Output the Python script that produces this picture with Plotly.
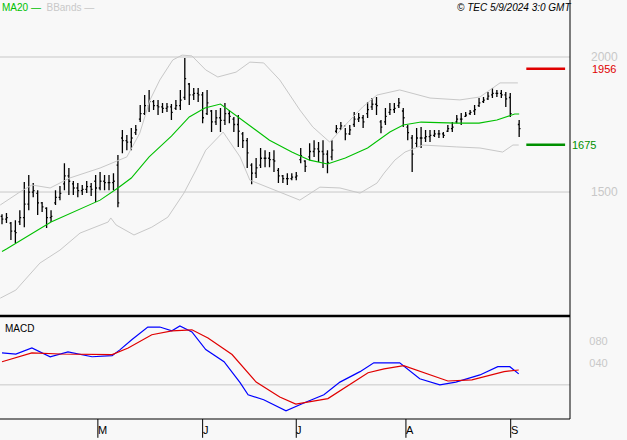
import plotly.graph_objects as go

# trading day index for each bar (one missing day before the last bar)
days = list(range(115)) + [116]
highs = [1418, 1422, 1389, 1396, 1433, 1537, 1563, 1533, 1507, 1463, 1444, 1433, 1507, 1522, 1607, 1589,
         1541, 1533, 1526, 1541, 1533, 1563, 1574, 1563, 1563, 1570, 1637, 1730, 1711, 1737, 1748, 1822,
         1859, 1878, 1841, 1841, 1830, 1830, 1826, 1841, 1878, 1996, 1904, 1885, 1885, 1870, 1878, 1804,
         1804, 1811, 1830, 1804, 1778, 1785, 1722, 1700, 1607, 1626, 1663, 1655, 1648, 1655, 1589, 1563,
         1570, 1570, 1574, 1663, 1618, 1681, 1692, 1685, 1692, 1655, 1692, 1748, 1759, 1737, 1748, 1796,
         1793, 1785, 1833, 1848, 1852, 1767, 1811, 1830, 1830, 1848, 1811, 1748, 1711, 1737, 1741, 1730,
         1730, 1730, 1730, 1722, 1748, 1759, 1785, 1793, 1796, 1804, 1822, 1848, 1852, 1870, 1885, 1878,
         1878, 1870, 1867, 1767]
lows = [1381, 1385, 1322, 1311, 1378, 1370, 1433, 1481, 1415, 1426, 1367, 1389, 1452, 1470, 1507, 1489,
        1489, 1481, 1489, 1496, 1485, 1463, 1507, 1507, 1507, 1507, 1444, 1644, 1655, 1655, 1711, 1759,
        1785, 1796, 1804, 1785, 1793, 1796, 1767, 1804, 1804, 1841, 1822, 1841, 1833, 1755, 1785, 1722,
        1748, 1722, 1748, 1755, 1722, 1667, 1663, 1589, 1529, 1552, 1589, 1592, 1592, 1574, 1533, 1533,
        1526, 1544, 1544, 1607, 1574, 1618, 1630, 1611, 1589, 1570, 1618, 1718, 1730, 1692, 1711, 1741,
        1759, 1737, 1774, 1804, 1785, 1718, 1748, 1785, 1793, 1811, 1741, 1692, 1574, 1667, 1663, 1685,
        1685, 1704, 1700, 1700, 1722, 1722, 1755, 1748, 1778, 1785, 1785, 1815, 1830, 1841, 1848, 1852,
        1848, 1815, 1778, 1704]
closes = [1400, 1405, 1355, 1350, 1405, 1455, 1500, 1505, 1460, 1445, 1405, 1410, 1480, 1495, 1560, 1540,
          1515, 1505, 1510, 1520, 1510, 1515, 1540, 1535, 1535, 1540, 1460, 1690, 1685, 1700, 1730, 1790,
          1820, 1835, 1820, 1815, 1810, 1815, 1795, 1820, 1840, 1920, 1860, 1865, 1860, 1775, 1830, 1760,
          1775, 1765, 1790, 1780, 1750, 1725, 1690, 1645, 1570, 1590, 1625, 1625, 1620, 1615, 1560, 1550,
          1550, 1555, 1560, 1635, 1595, 1650, 1660, 1650, 1640, 1610, 1655, 1735, 1745, 1715, 1730, 1770,
          1775, 1760, 1805, 1825, 1820, 1740, 1780, 1805, 1810, 1830, 1775, 1720, 1640, 1700, 1700, 1705,
          1710, 1715, 1715, 1710, 1735, 1740, 1770, 1770, 1785, 1795, 1805, 1830, 1840, 1855, 1865, 1865,
          1860, 1845, 1790, 1735]
opens = [1410, 1400, 1385, 1355, 1390, 1405, 1455, 1500, 1495, 1460, 1440, 1405, 1460, 1480, 1530, 1560,
         1530, 1515, 1505, 1510, 1520, 1540, 1515, 1540, 1535, 1535, 1600, 1700, 1690, 1685, 1720, 1770,
         1790, 1820, 1835, 1820, 1815, 1810, 1815, 1810, 1820, 1850, 1900, 1860, 1865, 1860, 1790, 1800,
         1760, 1775, 1765, 1790, 1770, 1750, 1715, 1690, 1600, 1570, 1600, 1625, 1625, 1620, 1580, 1560,
         1550, 1550, 1555, 1620, 1615, 1630, 1650, 1660, 1650, 1640, 1630, 1725, 1735, 1745, 1715, 1750,
         1770, 1775, 1790, 1815, 1825, 1760, 1760, 1795, 1805, 1820, 1800, 1740, 1700, 1680, 1700, 1700,
         1705, 1710, 1715, 1715, 1725, 1735, 1760, 1770, 1780, 1790, 1800, 1820, 1835, 1845, 1860, 1865,
         1865, 1860, 1850, 1750]

ma_days = [0, 1, 11, 22, 26, 29, 33, 38, 42, 45.5, 49, 53, 60, 65, 69, 73, 77, 82, 87, 90, 94, 102, 107, 111,
           113, 115, 116]
ma_vals = [1280, 1289, 1389, 1470, 1515, 1552, 1630, 1707, 1778, 1811, 1826, 1778, 1692, 1648, 1618, 1604,
           1626, 1663, 1722, 1748, 1759, 1755, 1755, 1767, 1778, 1789, 1789]

up_days = [-0.4, 4.0, 6.7, 10.8, 15.2, 22.0, 28.0, 30.9, 33.2, 35.4, 38.3, 40.4, 42.6, 45.7, 48.4, 52.5,
           55.6, 58.7, 62.3, 66.8, 69.7, 73.5, 77.4, 80.9, 84.1, 89.2, 96.0, 102.7, 107.2, 111.7, 115.7]
up_vals = [1452, 1500, 1526, 1515, 1552, 1589, 1630, 1718, 1841, 1915, 1989, 2007, 2004, 1952, 1926, 1944,
           1981, 1978, 1915, 1804, 1741, 1685, 1755, 1815, 1859, 1878, 1848, 1841, 1852, 1904, 1904]
lo_days = [-0.4, 3.1, 8.5, 13.0, 17.5, 23.8, 24.4, 25.6, 29.6, 33.6, 37.2, 40.8, 43.5, 45.7, 49.6, 53.4,
           55.6, 60.1, 63.9, 66.8, 71.3, 75.8, 80.3, 84.1, 85.7, 88.1, 90.4, 94.4, 102.0, 107.2, 112.3,
           114.6, 115.9]
lo_vals = [1107, 1137, 1237, 1285, 1348, 1389, 1404, 1378, 1341, 1370, 1407, 1496, 1581, 1655, 1722, 1630,
           1544, 1515, 1489, 1470, 1518, 1515, 1496, 1533, 1570, 1618, 1648, 1674, 1667, 1663, 1648, 1674,
           1674]

macd_days = [0, 3.1, 6.7, 10.8, 14.8, 20.2, 24.7, 26.5, 29.1, 32.7, 35.4, 38.1, 39.9, 42.6, 45.7, 49.8,
             53.4, 55.2, 58.7, 63.7, 67.7, 72.2, 75.8, 80.3, 83.4, 89.2, 93.7, 98.2, 101.8, 107.2, 111.2,
             113.9, 115.9]
macd_vals = [58, 56, 67, 51, 60, 51, 53, 64, 82, 105, 105, 98, 107, 96, 64, 42, 4, -18, -27, -47, -33, -18,
             5, 24, 40, 40, 11, 0, 5, 18, 33, 33, 20]
sig_days = [0, 6.7, 13.0, 20.2, 24.7, 28.3, 33.6, 38.1, 42.6, 46.2, 51.6, 57.0, 62.3, 65.9, 73.1, 82.1,
            85.7, 90.1, 94.6, 100, 105.4, 112.6, 115.9]
sig_vals = [42, 58, 56, 55, 55, 67, 91, 98, 100, 85, 55, 5, -22, -35, -25, 22, 29, 35, 22, 7, 9, 24, 27]

month_days = [21.5, 45, 66, 90.6, 114.1]
month_labels = ["M", "J", "J", "A", "S"]
price_ticks = [2000, 1500]
macd_ticks = [80, 40]
macd_tick_text = ["080", "040"]
resistance, support = 1956, 1675

FONT = "Liberation Sans"
GRAY = "#c8c8c8"
PAD = "\u00a0" * 6
fig = go.Figure()

fig.add_trace(go.Scatter(x=up_days, y=up_vals, mode="lines", line=dict(color=GRAY, width=1),
                         yaxis="y", hoverinfo="skip"))
fig.add_trace(go.Scatter(x=lo_days, y=lo_vals, mode="lines", line=dict(color=GRAY, width=1),
                         yaxis="y", hoverinfo="skip"))
fig.add_trace(go.Scatter(x=ma_days, y=ma_vals, mode="lines", line=dict(color="#00c000", width=1.1),
                         yaxis="y"))
fig.add_trace(go.Ohlc(x=days, open=opens, high=highs, low=lows, close=closes, yaxis="y",
                      increasing_line_color="black", decreasing_line_color="black",
                      line_width=1.3, tickwidth=0.3))
fig.add_trace(go.Scatter(x=macd_days, y=macd_vals, mode="lines", line=dict(color="#0000ff", width=1.2),
                         yaxis="y2"))
fig.add_trace(go.Scatter(x=sig_days, y=sig_vals, mode="lines", line=dict(color="#e00000", width=1.2),
                         yaxis="y2"))

# support / resistance markers
fig.add_shape(type="line", xref="x", yref="y", x0=117.6, x1=126.3, y0=resistance, y1=resistance,
              line=dict(color="#e00000", width=2.5))
fig.add_shape(type="line", xref="x", yref="y", x0=117.6, x1=126.3, y0=support, y1=support,
              line=dict(color="#009000", width=2.5))
fig.add_annotation(x=1.0, xref="paper", y=resistance, yref="y", text=str(resistance), showarrow=False,
                   xanchor="left", xshift=20, font=dict(family=FONT, size=11, color="#e00000"))
fig.add_annotation(x=1.0, xref="paper", y=support, yref="y", text=str(support), showarrow=False,
                   xanchor="left", font=dict(family=FONT, size=11, color="#009000"))

# grid lines
for p in price_ticks:
    fig.add_shape(type="line", xref="paper", yref="y", x0=0, x1=1, y0=p, y1=p,
                  line=dict(color=GRAY, width=1), layer="below")
fig.add_shape(type="line", xref="paper", yref="y2", x0=0, x1=1, y0=0, y1=0,
              line=dict(color=GRAY, width=1), layer="below")

# panel frame
fig.add_shape(type="line", xref="paper", yref="paper", x0=0, x1=1, y0=0.2818, y1=0.2818,
              line=dict(color="black", width=2.5))
fig.add_shape(type="line", xref="paper", yref="paper", x0=0, x1=1, y0=0.0477, y1=0.0477,
              line=dict(color="black", width=1))
fig.add_shape(type="line", xref="paper", yref="paper", x0=1, x1=1, y0=0.0477, y1=1,
              line=dict(color="black", width=1))

# month ticks
for d, lab in zip(month_days, month_labels):
    fig.add_shape(type="line", xref="x", yref="paper", x0=d, x1=d, y0=0.0477, y1=0.005,
                  line=dict(color="black", width=1))
    fig.add_annotation(x=d, xref="x", y=0.042, yref="paper", text=lab, showarrow=False,
                       xanchor="left", yanchor="top", xshift=-2,
                       font=dict(family=FONT, size=11, color="black"))

# legend / header
fig.add_annotation(x=0, xref="paper", y=1, yref="paper", yanchor="top", xanchor="left", showarrow=False,
                   text="<span style='color:#00c000'>MA20 —</span>  <span style='color:#c8c8c8'>BBands —</span>",
                   font=dict(family=FONT, size=10))
fig.add_annotation(x=1.005, xref="paper", y=1, yref="paper", yanchor="top", xanchor="right",
                   showarrow=False, text="<i>© TEC 5/9/2024 3:0 GMT</i>",
                   font=dict(family=FONT, size=10, color="black"))
fig.add_annotation(x=0.005, xref="paper", y=0.27, yref="paper", yanchor="top", xanchor="left",
                   showarrow=False, text="MACD", font=dict(family=FONT, size=10, color="black"))

fig.update_layout(
    width=627, height=440,
    margin=dict(l=0, r=57, t=0, b=0),
    paper_bgcolor="#f8f8f8", plot_bgcolor="#f8f8f8",
    showlegend=False,
    xaxis=dict(range=[-0.45, 127.4], showgrid=False, zeroline=False, showticklabels=False,
               rangeslider=dict(visible=False), fixedrange=True),
    yaxis=dict(domain=[0.2818, 1], range=[1041, 2211], side="right", showgrid=False, zeroline=False,
               tickvals=price_ticks, ticktext=[PAD + str(p) for p in price_ticks], ticks="",
               tickfont=dict(family=FONT, size=12, color="#c8c8c8")),
    yaxis2=dict(domain=[0.0477, 0.2818], range=[-62, 125], side="right", showgrid=False, zeroline=False,
                tickvals=macd_ticks, ticktext=[PAD + t for t in macd_tick_text], ticks="",
                tickfont=dict(family=FONT, size=11, color="#c8c8c8")),
)

fig.write_html("out.html", config={"displayModeBar": False},
               post_script="document.body.style.margin='0';document.body.style.overflow='hidden';")
